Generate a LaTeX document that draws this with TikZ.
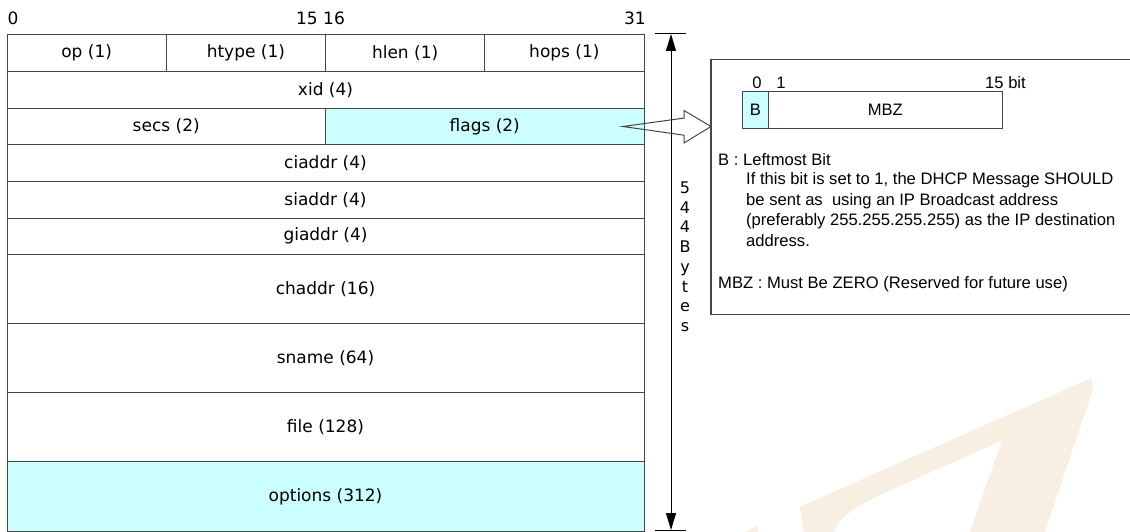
\documentclass[tikz,border=0pt]{standalone}
\usepackage{fontspec}
\newfontfamily\tblfont{DejaVu Sans}
\newfontfamily\boxfont{Liberation Sans}
\definecolor{fieldline}{RGB}{70,70,70}
\definecolor{hlcyan}{RGB}{204,255,255}
\definecolor{wmark}{RGB}{247,239,225}
\usetikzlibrary{arrows.meta,positioning,calc}

\begin{document}
\begin{tikzpicture}[x=1pt,y=-1pt,
  field/.style={draw=fieldline,line width=1pt,inner sep=0pt,outer sep=0pt,
    minimum height=36.6pt,font=\tblfont\fontsize{17}{20}\selectfont},
  quarter/.style={field,minimum width=159.25pt},
  half/.style={field,minimum width=318.5pt},
  full/.style={field,minimum width=637pt},
  tall/.style={full,minimum height=69.1pt},
  bitnum/.style={font=\tblfont\fontsize{17}{20}\selectfont,inner sep=0pt},
  sizechar/.style={font=\tblfont\fontsize{16}{19}\selectfont,inner sep=0pt},
  boxtext/.style={font=\boxfont\fontsize{16.6}{20.5}\selectfont,inner sep=0pt},
  bitcell/.style={draw=fieldline,line width=1pt,inner sep=0pt,outer sep=0pt,
    minimum height=37.4pt,font=\boxfont\fontsize{16.6}{20.5}\selectfont},
  dimarrow/.style={{Triangle[length=17pt,width=10pt]}-{Triangle[length=17pt,width=10pt]},line width=1pt},
  tick/.style={line width=1pt},
  blockarrow/.style={draw=fieldline,line width=1pt,line join=miter}
]
  \useasboundingbox (0,0) rectangle (1130,532);

  % watermark
  \fill[wmark] (800,506.7) -- (1091,378.3) -- (1093.3,388.3) -- (1045,532) -- (970,532)
    -- (1001.7,440.7) -- (883.3,493.3) .. controls (852,508) and (840,518) .. (833.3,532)
    -- (803.3,532) -- cycle;
  \fill[wmark] (745,532) -- (756.7,525.7) -- (758.3,532) -- cycle;

  % bit numbers
  \node[bitnum] (b0) at (13,18) {0};
  \node[bitnum,anchor=east] (b15) at (318,18) {15};
  \node[bitnum,anchor=west] (b16) at (323,18) {16};
  \node[bitnum,anchor=east] (b31) at (646,18) {31};

  % message fields
  \node[quarter,anchor=north west] (op) at (7,35) {op (1)};
  \node[quarter,right=0pt of op] (htype) {htype (1)};
  \node[quarter,right=0pt of htype] (hlen) {hlen (1)};
  \node[quarter,right=0pt of hlen] (hops) {hops (1)};
  \node[full,below right=0pt and 0pt of op.south west] (xid) {xid (4)};
  \node[half,below right=0pt and 0pt of xid.south west] (secs) {secs (2)};
  \node[half,fill=hlcyan,right=0pt of secs] (flags) {flags (2)};
  \node[full,below right=0pt and 0pt of secs.south west] (ciaddr) {ciaddr (4)};
  \node[full,below right=0pt and 0pt of ciaddr.south west] (siaddr) {siaddr (4)};
  \node[full,below right=0pt and 0pt of siaddr.south west] (giaddr) {giaddr (4)};
  \node[tall,below right=0pt and 0pt of giaddr.south west] (chaddr) {chaddr (16)};
  \node[tall,below right=0pt and 0pt of chaddr.south west] (sname) {sname (64)};
  \node[tall,below right=0pt and 0pt of sname.south west] (file) {file (128)};
  \node[tall,fill=hlcyan,below right=0pt and 0pt of file.south west] (options) {options (312)};

  % total length
  \coordinate (dimtop) at (671,34);
  \coordinate (dimbot) at (671,530);
  \draw[tick] ($(dimtop)+(-16,0)$) -- ($(dimtop)+(15,0)$);
  \draw[tick] ($(dimbot)+(-16,0)$) -- ($(dimbot)+(15,0)$);
  \draw[dimarrow] (dimtop) -- (dimbot);
  \foreach \ch [count=\i from 0] in {5,4,4,B,y,t,e,s}
    \node[sizechar,anchor=base] (sz\i) at (685,{193.5+19.7*\i}) {\ch};

  % flags detail
  \node[draw=fieldline,line width=1.2pt,anchor=north west,minimum width=430pt,
    minimum height=255pt,inner sep=0pt,outer sep=0pt] (bitbox) at (711,59.3) {};
  \node[bitcell,fill=hlcyan,anchor=north west,minimum width=26.4pt] (bbit) at (742.3,91.3) {B};
  \node[bitcell,minimum width=233.3pt,right=0pt of bbit] (mbz) {MBZ};
  \node[boxtext,anchor=base] (n0) at (757,89) {0};
  \node[boxtext,anchor=base] (n1) at (781,89) {1};
  \node[boxtext,anchor=base west] (n15) at (985,89) {15 bit};

  \node[boxtext,anchor=base west] (bdesc) at (718,165) {B : Leftmost Bit};
  \node[boxtext,align=left,anchor=north west] (bnote) at (746,172.4)
    {If this bit is set to 1, the DHCP Message SHOULD\\
     be sent as \ using an IP Broadcast address\\
     (preferably 255.255.255.255) as the IP destination\\
     address.};
  \node[boxtext,anchor=base west] (mbzdesc) at (718,288.4)
    {MBZ : Must Be ZERO (Reserved for future use)};

  % arrow from flags to detail
  \coordinate (tail) at ($(flags.east)+(-21,0)$);
  \coordinate (head) at (bitbox.west |- flags.east);
  \draw[blockarrow] (tail) -- ($(head)+(-27,-8.4)$) -- ($(head)+(-27,-16)$) -- (head)
    -- ($(head)+(-27,16.5)$) -- ($(head)+(-27,8.7)$) -- cycle;
\end{tikzpicture}
\end{document}
